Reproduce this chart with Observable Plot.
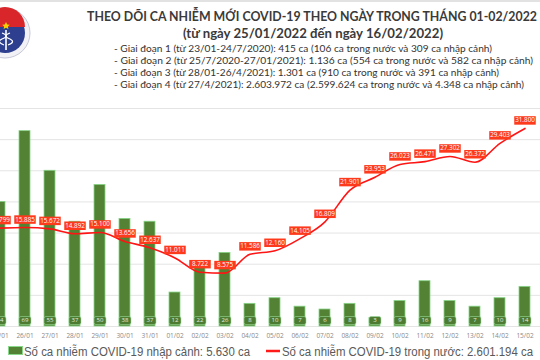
<!DOCTYPE html>
<html><head><meta charset="utf-8">
<script src="https://cdn.jsdelivr.net/npm/d3@7"></script>
<script src="https://cdn.jsdelivr.net/npm/@observablehq/plot@0.6"></script>
<style>
html,body{margin:0;padding:0;background:#fff;}
#page{position:relative;width:540px;height:360px;overflow:hidden;background:#fff;}
#header{position:absolute;left:0;top:0;}
#chart{position:absolute;left:0;top:100px;width:540px;height:243px;overflow:hidden;}
#legend{position:absolute;left:0;top:340px;}
</style></head>
<body>
<div id="page">
<svg id="header" width="540" height="100" xmlns="http://www.w3.org/2000/svg">
  <line x1="0" x2="540" y1="1" y2="1" stroke="#e2e2e2" stroke-width="2"/>
  <g>
    <circle cx="5" cy="33" r="25" fill="#f1f1f6" stroke="#c5c8d8" stroke-width="1"/>
    <circle cx="5" cy="33" r="20" fill="#2d3f8e"/>
    <path d="M -15 27 A 20 20 0 0 1 25 27 Z" fill="#d8262a"/>
    <path d="M 6 22 l 1.2 2.4 2.6 0.3 -1.9 1.8 0.5 2.6 -2.4 -1.3 -2.4 1.3 0.5 -2.6 -1.9 -1.8 2.6 -0.3 z" fill="#f5d000"/>
    <line x1="6" x2="6" y1="30" y2="50" stroke="#fff" stroke-width="1.6"/>
    <path d="M 2 33 q 8 3 0 6 q -6 3 2 6" fill="none" stroke="#fff" stroke-width="1.2"/>
    <path d="M 10 33 q -8 3 0 6 q 6 3 -2 6" fill="none" stroke="#fff" stroke-width="1.2"/>
  </g>
  <g font-family="Lato, 'Open Sans', sans-serif" fill="#3a3a3a">
    <text x="87" y="20.5" font-size="12.5" font-weight="bold" textLength="450" lengthAdjust="spacingAndGlyphs">THEO DÕI CA NHIỄM MỚI COVID-19 THEO NGÀY TRONG THÁNG 01-02/2022</text>
    <text x="183" y="37.5" font-size="13" font-weight="bold" textLength="260" lengthAdjust="spacingAndGlyphs">(từ ngày 25/01/2022 đến ngày 16/02/2022)</text>
    <g font-size="10" fill="#333">
      <text x="114" y="51.5" textLength="378" lengthAdjust="spacingAndGlyphs">- Giai đoạn 1 (từ 23/01-24/7/2020): 415 ca (106 ca trong nước và 309 ca nhập cảnh)</text>
      <text x="114" y="63.5" textLength="419" lengthAdjust="spacingAndGlyphs">- Giai đoạn 2 (từ 25/7/2020-27/01/2021): 1.136 ca (554 ca trong nước và 582 ca nhập cảnh)</text>
      <text x="114" y="75.5" textLength="385" lengthAdjust="spacingAndGlyphs">- Giai đoạn 3 (từ 28/01-26/4/2021): 1.301 ca (910 ca trong nước và 391 ca nhập cảnh)</text>
      <text x="114" y="87.5" textLength="410" lengthAdjust="spacingAndGlyphs">- Giai đoạn 4 (từ 27/4/2021): 2.603.972 ca (2.599.624 ca trong nước và 4.348 ca nhập cảnh)</text>
    </g>
  </g>
</svg>
<div id="chart"></div>
<svg id="legend" width="540" height="20" xmlns="http://www.w3.org/2000/svg">
  <rect x="8.5" y="6.5" width="14" height="8" fill="#548235" stroke="#8ad88a" stroke-width="1"/>
  <text x="24" y="15.5" font-family="'Liberation Sans', Arial, sans-serif" font-size="12" fill="#595959" textLength="226" lengthAdjust="spacingAndGlyphs">Số ca nhiễm COVID-19 nhập cảnh: 5.630 ca</text>
  <line x1="266" x2="280" y1="11" y2="11" stroke="#ff1a1a" stroke-width="2.5"/>
  <text x="282" y="15.5" font-family="'Liberation Sans', Arial, sans-serif" font-size="12" fill="#595959" textLength="251" lengthAdjust="spacingAndGlyphs">Số ca nhiễm COVID-19 trong nước: 2.601.194 ca</text>
</svg>
</div>
<script>
const dates = ["25/01","26/01","27/01","28/01","29/01","30/01","31/01","01/02","02/02","03/02","04/02","05/02","06/02","07/02","08/02","09/02","10/02","11/02","12/02","13/02","14/02","15/02","16/02"];
const imported = [44,69,55,37,50,38,37,12,22,26,8,10,7,6,8,3,9,16,9,7,10,14];
const domestic = [15799,15885,15672,14892,15100,13656,12637,11011,8722,8575,11586,12160,14105,16809,21901,23953,26023,26471,27302,26372,29403,31800];
const gridTicks = [0,5000,10000,15000,20000,25000,30000,35000];

const table = imported.map((v,i)=>({date: dates[i], imported: v, domestic: domestic[i]}));
const ratio = 35000/77;
const fmt = v => d3.format(",")(v).replace(/,/g, ".");

function boxSymbol(w, h, r) {
  return {draw(ctx) {
    const x0=-w/2, y0=-h/2, x1=w/2, y1=h/2;
    if (!r) { ctx.rect(x0, y0, w, h); return; }
    ctx.moveTo(x0+r, y0); ctx.lineTo(x1-r, y0); ctx.arcTo(x1, y0, x1, y0+r, r);
    ctx.lineTo(x1, y1-r); ctx.arcTo(x1, y1, x1-r, y1, r);
    ctx.lineTo(x0+r, y1); ctx.arcTo(x0, y1, x0, y1-r, r);
    ctx.lineTo(x0, y0+r); ctx.arcTo(x0, y0, x0+r, y0, r); ctx.closePath();
  }};
}

const chart = Plot.plot({
  width: 540, height: 243,
  marginTop: 8, marginBottom: 17, marginLeft: 0, marginRight: 0,
  style: {fontSize: "6.5px", fontFamily: "'Open Sans', sans-serif", color: "#8a8a8a", background: "transparent", overflow: "hidden"},
  x: {type: "band", domain: dates, range: [-17.7, 566.5], paddingInner: 0.56, paddingOuter: 0.28, tickSize: 0, tickPadding: 7, label: null},
  y: {domain: [0, 35000], axis: null},
  marks: [
    Plot.ruleY(gridTicks, {stroke: "#e4e4e4", strokeWidth: 1}),
    Plot.barY(table, {x: "date", y: d => d.imported * ratio, fill: "#548235", stroke: "#86d486", strokeWidth: 0.8}),
    Plot.dot(table, {x: "date", y: 0, dy: -6, symbol: boxSymbol(12, 8, 2), fill: "#4d7b31", stroke: "#98dc98", strokeWidth: 0.6}),
    Plot.text(table, {x: "date", y: 0, dy: -6, text: d => String(d.imported), fill: "#e6ede0", fontSize: 6, fontFamily: "'Open Sans', sans-serif"}),
    Plot.line(table, {x: "date", y: "domestic", stroke: "#ff1414", strokeWidth: 1.6, curve: "monotone-x"}),
    Plot.dot(table, {x: "date", y: "domestic", dy: -8, symbol: boxSymbol(21.5, 8.5, 0), fill: "#fd3a1c"}),
    Plot.text(table, {x: "date", y: "domestic", dy: -8, text: d => fmt(d.domestic), fill: "#ffffff", fontSize: 6.3, fontFamily: "'Open Sans', sans-serif"})
  ]
});
document.getElementById("chart").appendChild(chart);
</script>
</body></html>
